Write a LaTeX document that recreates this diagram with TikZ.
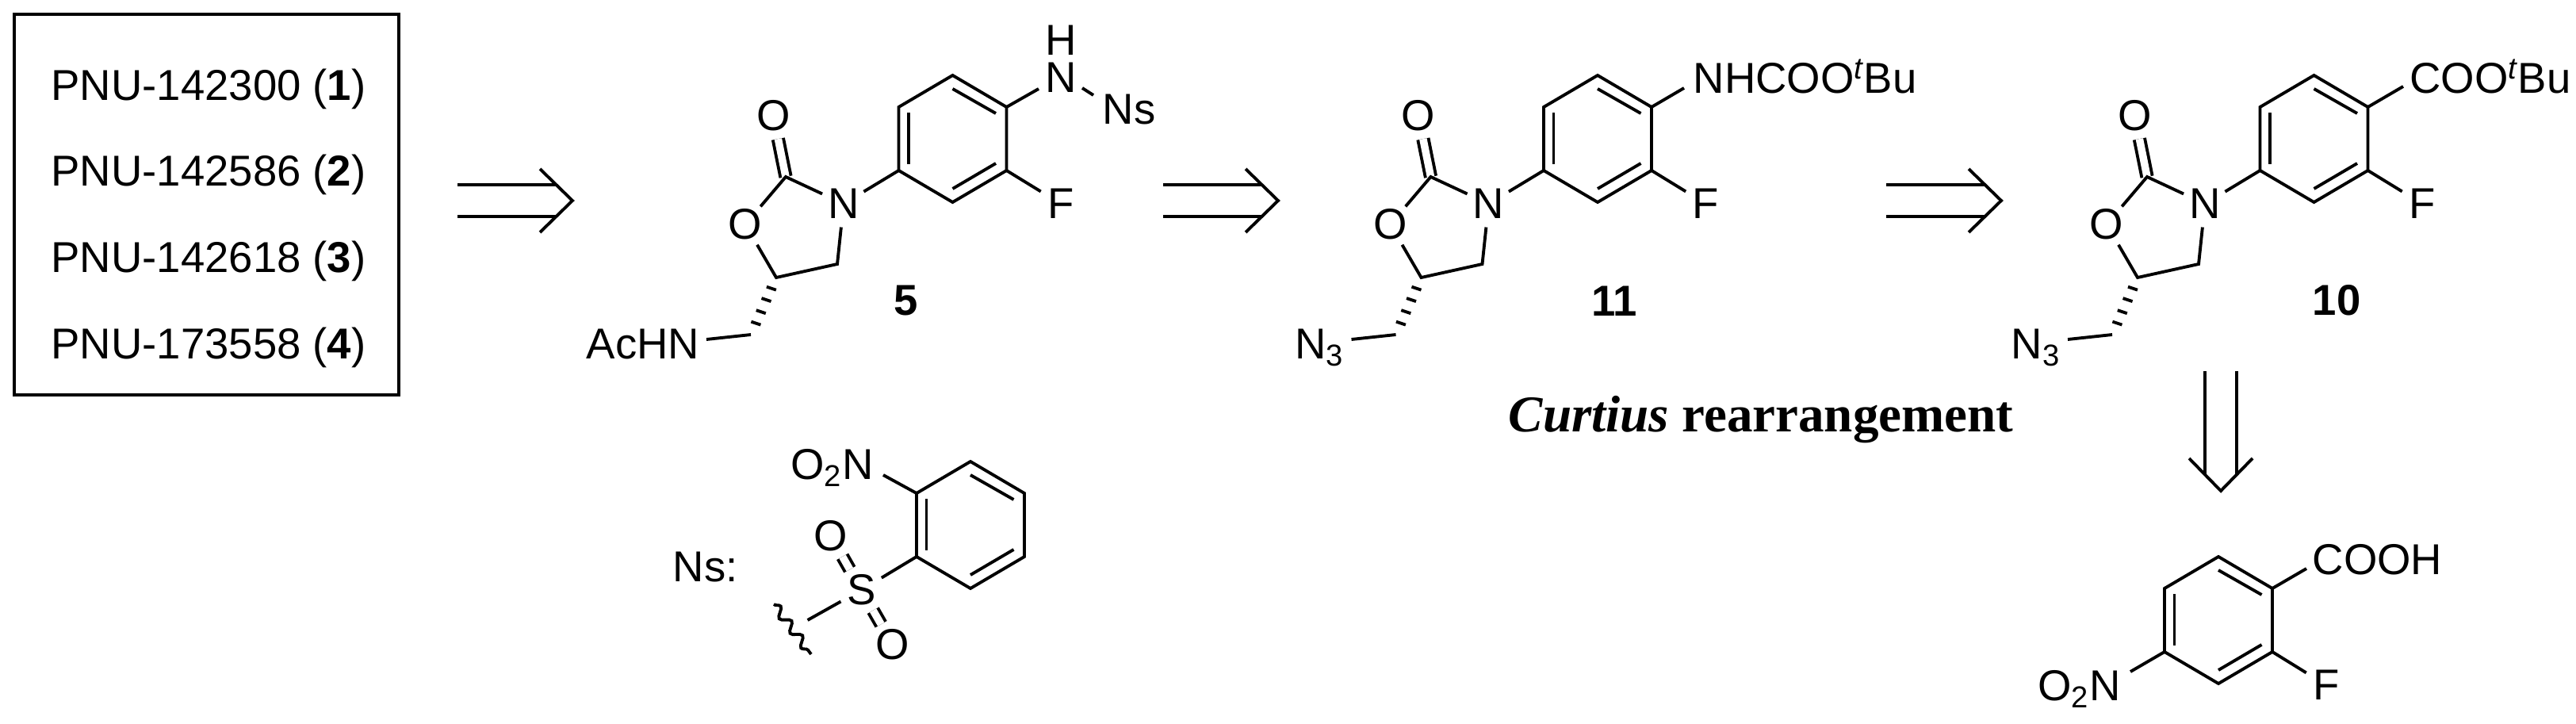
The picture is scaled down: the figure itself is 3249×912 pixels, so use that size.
\documentclass[tikz,border=0pt]{standalone}
\usepackage{fontspec}
\setmainfont{Liberation Sans}
\newfontfamily\titlefont{Liberation Serif}
\usetikzlibrary{calc,decorations.pathmorphing}
\newcommand{\atomfont}{\fontsize{15.5}{18}\selectfont}
\tikzstyle{bond} = [draw, line width=1.1pt, line join=miter]
\tikzstyle{dbond} = [bond, double, double distance=.095cm]
\tikzstyle{atom} = [circle, inner sep=0pt, minimum size=.58cm, font=\atomfont]
\tikzstyle{grp} = [inner sep=0pt, font=\atomfont]
\tikzstyle{num} = [inner sep=0pt, font=\atomfont\bfseries]
\newcommand{\benzring}[3]{
  \begin{scope}[shift={(#2,#3)}]
    \coordinate (#1t) at (0,-80);
    \coordinate (#1ur) at (68,-40);
    \coordinate (#1lr) at (68,40);
    \coordinate (#1b) at (0,80);
    \coordinate (#1ll) at (-68,40);
    \coordinate (#1ul) at (-68,-40);
    \draw[bond] (#1t) -- (#1ur) -- (#1lr) -- (#1b) -- (#1ll) -- (#1ul) -- cycle;
    \draw[bond] (0,-63) -- (54.5,-32);
    \draw[bond] (-55.5,-33) -- (-55.5,32);
    \draw[bond] (0,63) -- (54.5,31);
  \end{scope}
}
\newcommand{\oxcore}[3]{
  \benzring{#1}{#2+1201.5}{175}
  \begin{scope}[shift={(#2,0)}]
    \node[atom] (#1n) at (1064,257) {N};
    \node[atom] (#1oc) at (975.5,146) {O};
    \node[atom] (#1o) at (940,283) {O};
    \node[atom] (#1f) at (1338,257) {F};
    \node[grp, anchor=base east] (#1r) at (883,452.5) {#3};
    \coordinate (#1c2) at (991,223);
    \coordinate (#1c4) at (1056,333);
    \coordinate (#1c5) at (979,350);
    \coordinate (#1ch) at (947,422);
    \draw[dbond] (#1c2) -- (#1oc);
    \draw[bond] (#1ll) -- (#1n);
    \draw[bond] (#1lr) -- (#1f);
    \draw[bond] (#1o) -- (#1c2) -- (#1n) -- (#1c4) -- (#1c5) -- (#1o);
    \draw[bond] ($(#1c5)!.19!(#1ch)+(-6,-2)$) -- ($(#1c5)!.19!(#1ch)+(6,2)$);
    \draw[bond] ($(#1c5)!.39!(#1ch)+(-6,-2)$) -- ($(#1c5)!.39!(#1ch)+(6,2)$);
    \draw[bond] ($(#1c5)!.60!(#1ch)+(-6,-2)$) -- ($(#1c5)!.60!(#1ch)+(6,2)$);
    \draw[bond] ($(#1c5)!.80!(#1ch)+(-6,-2)$) -- ($(#1c5)!.80!(#1ch)+(6,2)$);
    \draw[bond] (#1ch) -- ([shift={(8,-24.5)}]#1r.base east);
  \end{scope}
}
\newcommand{\retro}[4]{
  \begin{scope}[shift={(#1,#2)},rotate=#3]
    \draw[bond] (0,-20) -- (#4-21,-20);
    \draw[bond] (0,20) -- (#4-21,20);
    \draw[bond] (#4-41,-40) -- (#4,0) -- (#4-41,40);
  \end{scope}
}
\begin{document}
\begin{tikzpicture}[x=.01cm, y=-.01cm, node distance=1.087cm]
  \useasboundingbox (0,0) rectangle (3249,912);
  % target list
  \node[draw, line width=1.1pt, minimum width=4.85cm, minimum height=4.8cm] (pnubox) at (260.5,258) {};
  \node[grp] (p1) at (263,112) {PNU-142300 (\textbf{1})};
  \node[grp, below of=p1] (p2) {PNU-142586 (\textbf{2})};
  \node[grp, below of=p2] (p3) {PNU-142618 (\textbf{3})};
  \node[grp, below of=p3] (p4) {PNU-173558 (\textbf{4})};
  % retro arrows
  \retro{577}{253}{0}{145}
  \retro{1467}{253}{0}{145}
  \retro{2379}{253}{0}{145}
  \retro{2801}{468}{-90}{151}
  % compound 5
  \oxcore{m5}{0}{AcHN}
  \node[grp] (m5nh) at (1338,98) {N};
  \node[grp, above of=m5nh, node distance=.47cm] (m5h) {H};
  \node[grp, anchor=base west] (m5ns) at (1390,156.5) {Ns};
  \draw[bond] (m5ur) -- ([shift={(-28,14)}]m5nh.center);
  \draw[bond] ([shift={(27,13)}]m5nh.center) -- ([shift={(-11,-36.5)}]m5ns.base west);
  \node[num] (n5) at (1143,379) {5};
  % Ns group
  \node[grp, anchor=base west] (nslabel) at (848,733.5) {Ns:};
  \benzring{ns}{1224}{662}
  \node[atom] (nss) at (1086.4,744) {S};
  \node[atom] (nso1) at (1048,676) {O};
  \node[atom] (nso2) at (1126,813) {O};
  \node[grp, anchor=base east] (nsno) at (1103,604.5) {O\textsubscript{2}N};
  \coordinate (nsfree) at (1018.6,782);
  \coordinate (nswa) at (976,762);
  \coordinate (nswb) at (1023,825);
  \draw[dbond] (nss) -- (nso1);
  \draw[dbond] (nss) -- (nso2);
  \draw[bond] (nsll) -- (nss);
  \draw[bond] (nss) -- (nsfree);
  \draw[bond] (nsul) -- ([shift={(11,-5.5)}]nsno.base east);
  \draw[bond, decorate, decoration={snake, amplitude=.055cm, segment length=.23cm}] (nswa) -- (nswb);
  % compound 11
  \oxcore{m11}{813.5}{N\textsubscript{3}}
  \node[grp, anchor=base west] (m11g) at (2135,117.5) {NHCOO\textsuperscript{\itshape t}Bu};
  \draw[bond] (m11ur) -- ([shift={(-11,-6.5)}]m11g.base west);
  \node[num] (n11) at (2036,380) {11};
  \node[inner sep=0pt, anchor=base west, font=\titlefont\fontsize{18.5}{22}\selectfont\bfseries] (curtius) at (1902,544) {\textit{Curtius} rearrangement};
  % compound 10
  \oxcore{m10}{1717}{N\textsubscript{3}}
  \node[grp, anchor=base west] (m10g) at (3038.5,117.5) {COO\textsuperscript{\itshape t}Bu};
  \draw[bond] (m10ur) -- ([shift={(-7.5,-8.5)}]m10g.base west);
  \node[num] (n10) at (2947,379) {10};
  % acid
  \benzring{ac}{2798}{782}
  \node[grp, anchor=base west] (acg) at (2916,724.5) {COOH};
  \node[atom] (acf) at (2934,864) {F};
  \node[grp, anchor=base east] (acno) at (2675.5,883.5) {O\textsubscript{2}N};
  \draw[bond] (acur) -- ([shift={(-7,-7.5)}]acg.base west);
  \draw[bond] (aclr) -- (acf);
  \draw[bond] (acll) -- ([shift={(11.5,-36.5)}]acno.base east);
\end{tikzpicture}
\end{document}
